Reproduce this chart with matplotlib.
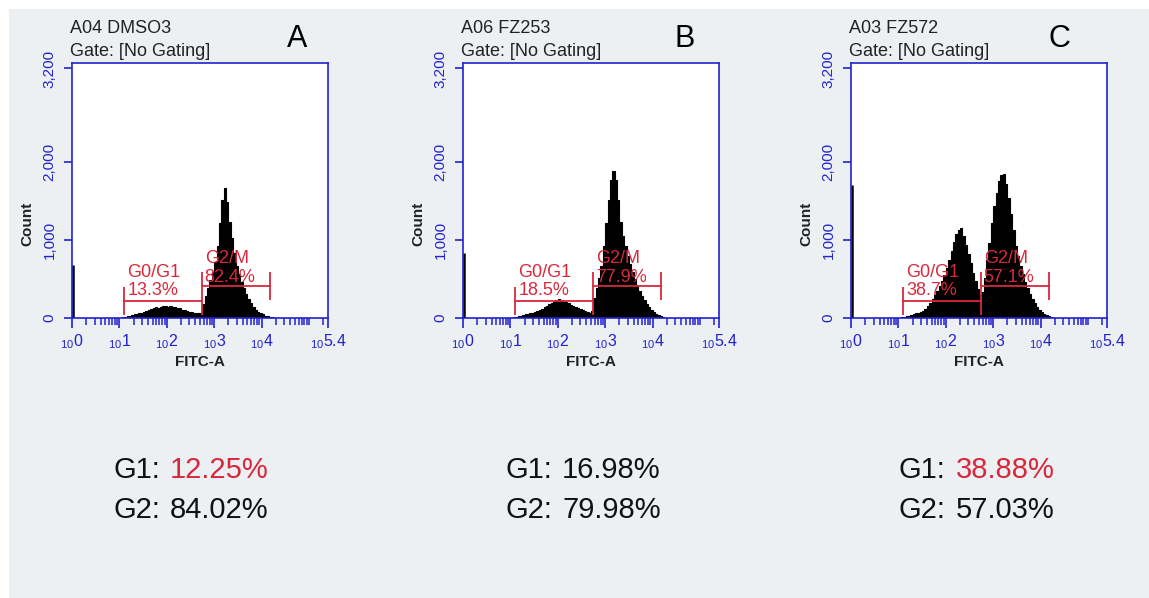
import numpy as np
import matplotlib.pyplot as plt
from matplotlib.patches import Rectangle
from matplotlib.ticker import FixedLocator, NullFormatter

plt.rcParams['font.family'] = ['Liberation Sans', 'DejaVu Sans']
plt.rcParams['mathtext.fontset'] = 'custom'
plt.rcParams['mathtext.rm'] = 'Liberation Sans'

W, H = 1149, 598

samples = ["A04 DMSO3", "A06 FZ253", "A03 FZ572"]
panel_letters = ["A", "B", "C"]
g1_gate_pct = ["13.3%", "18.5%", "38.7%"]
g2_gate_pct = ["82.4%", "77.9%", "57.1%"]
g1_summary = ["12.25%", "16.98%", "38.88%"]
g2_summary = ["84.02%", "79.98%", "57.03%"]
g1_highlight = [True, False, True]

# events piled up in the first FITC-A channel
first_channel = [680, 830, 1700]

# FITC-A histograms, channels 0.05 decade wide starting at 10^1.00
counts_a = [6, 10, 19, 26, 32, 38, 45, 51, 64, 70, 83, 90, 102, 115, 122, 140, 128, 141, 150, 154,
            141, 160, 147, 141, 128, 122, 109, 102, 90, 83, 77, 70, 64, 58, 58, 179, 282, 384, 486, 589,
            717, 922, 1216, 1510, 1664, 1485, 1229, 1024, 832, 666, 563, 461, 384, 307, 243, 192, 141, 102, 77, 58,
            45, 32, 26, 19, 13, 6]
counts_b = [6, 10, 19, 26, 32, 38, 45, 51, 58, 70, 77, 90, 102, 115, 141, 154, 179, 192, 218, 230,
            243, 237, 224, 211, 192, 173, 160, 141, 128, 115, 102, 90, 77, 70, 90, 256, 384, 512, 666, 922,
            1216, 1510, 1766, 1882, 1766, 1510, 1229, 1050, 922, 794, 691, 589, 499, 422, 346, 282, 230, 179, 141, 102,
            77, 51, 38, 26, 13, 6]
counts_c = [6, 13, 19, 26, 32, 38, 45, 58, 64, 77, 96, 115, 154, 192, 243, 294, 346, 410, 474, 550,
            640, 742, 858, 973, 1075, 1126, 1152, 1050, 934, 819, 704, 576, 474, 371, 294, 333, 512, 742, 960, 1216,
            1434, 1600, 1754, 1830, 1843, 1715, 1536, 1331, 1126, 922, 794, 666, 563, 461, 384, 307, 243, 192, 141, 102,
            77, 51, 38, 26, 13, 6]
hist_counts = [counts_a, counts_b, counts_c]

# gate limits in decades: G0/G1 from lo to mid, G2/M from mid to hi
gate_edges = (1.10, 2.74, 4.17)

blue = "#2222cc"
red = "#d8283c"

fig = plt.figure(figsize=(W / 100, H / 100), dpi=100)
fig.add_artist(Rectangle((9 / W, 0), 1, 1 - 9 / H, transform=fig.transFigure,
                         facecolor="#ecf0f3", edgecolor="none", zorder=-5))


def fx(px):
    return px / W


def fy(py):
    return 1 - py / H


lefts = [72, 463, 851]
letter_x = [297, 685, 1059]
summary_x = [113.6, 505.6, 899]
top, bottom = 63, 318

for i in range(3):
    left = lefts[i]
    ax = fig.add_axes([fx(left), fy(bottom), 256 / W, (bottom - top) / H])
    ax.set_facecolor("white")
    ax.set_xscale("log")
    ax.set_xlim(1, 10 ** 5.4)
    ax.set_ylim(0, 3270)

    counts = hist_counts[i]
    edges = 10 ** (1.0 + 0.05 * np.arange(len(counts) + 1))
    ax.stairs(counts, edges, fill=True, facecolor="black", edgecolor="black", lw=0.8, zorder=2)
    ax.vlines(10 ** 0.012, 0, first_channel[i], color="black", lw=1.8, zorder=2)

    lo, mid, hi = (10 ** g for g in gate_edges)
    ax.plot([lo, mid], [218, 218], color=red, lw=1.3, zorder=4)
    ax.plot([mid, hi], [410, 410], color=red, lw=1.3, zorder=4)
    ax.vlines([lo], 38, 397, color=red, lw=1.3, zorder=4)
    ax.vlines([mid], 38, 590, color=red, lw=1.3, zorder=4)
    ax.vlines([hi], 231, 590, color=red, lw=1.3, zorder=4)
    ax.text(10 ** (gate_edges[0] + 0.07), 529, "G0/G1", color=red, fontsize=13, zorder=5)
    ax.text(10 ** (gate_edges[0] + 0.07), 295, g1_gate_pct[i], color=red, fontsize=13, zorder=5)
    ax.text(10 ** (gate_edges[1] + 0.06), 701, "G2/M", color=red, fontsize=13, zorder=5)
    ax.text(10 ** (gate_edges[1] + 0.06), 465, g2_gate_pct[i], color=red, fontsize=13, zorder=5)

    for s in ax.spines.values():
        s.set_color(blue)
        s.set_linewidth(1.2)

    ax.set_yticks([0, 1000, 2000, 3200])
    ax.set_yticklabels(["0", "1,000", "2,000", "3,200"], rotation=90, va="center")
    ax.tick_params(axis="y", colors=blue, length=6, width=1.2, pad=5, labelsize=11)

    exps = ["0", "1", "2", "3", "4", "5.4"]
    ax.xaxis.set_major_locator(FixedLocator([10 ** float(e) for e in exps]))
    ax.set_xticklabels([r"${}_{\mathregular{10}}\mathregular{%s}$" % e for e in exps])
    minor = [m * 10 ** k for k in range(5) for m in range(2, 10)] + [1e5, 2e5]
    ax.xaxis.set_minor_locator(FixedLocator(minor))
    ax.xaxis.set_minor_formatter(NullFormatter())
    ax.tick_params(axis="x", which="major", colors=blue, length=7, width=1.2, pad=3, labelsize=11.5)
    ax.tick_params(axis="x", which="minor", colors=blue, length=5, width=1.1)

    fig.text(fx(left - 2), fy(33), samples[i], fontsize=13, color="#222222", va="baseline")
    fig.text(fx(left - 2), fy(56), "Gate: [No Gating]", fontsize=13, color="#222222", va="baseline")
    fig.text(fx(letter_x[i]), fy(47), panel_letters[i], fontsize=22, color="black",
             ha="center", va="baseline")
    fig.text(fx(left - 45), fy(224), "Count", fontsize=11, fontweight="bold", color="#222222",
             rotation=90, ha="center", va="center")
    fig.text(fx(left + 128), fy(366), "FITC-A", fontsize=11, fontweight="bold", color="#222222",
             ha="center", va="baseline")

    sx = summary_x[i]
    fig.text(fx(sx), fy(478), "G1:", fontsize=21, color="#111111", va="baseline")
    fig.text(fx(sx + 56.5), fy(478), g1_summary[i], fontsize=21,
             color=red if g1_highlight[i] else "#111111", va="baseline")
    fig.text(fx(sx), fy(518), "G2:", fontsize=21, color="#111111", va="baseline")
    fig.text(fx(sx + 56.5), fy(518), g2_summary[i], fontsize=21, color="#111111", va="baseline")

fig.savefig("out.png", dpi=100, facecolor="white")
